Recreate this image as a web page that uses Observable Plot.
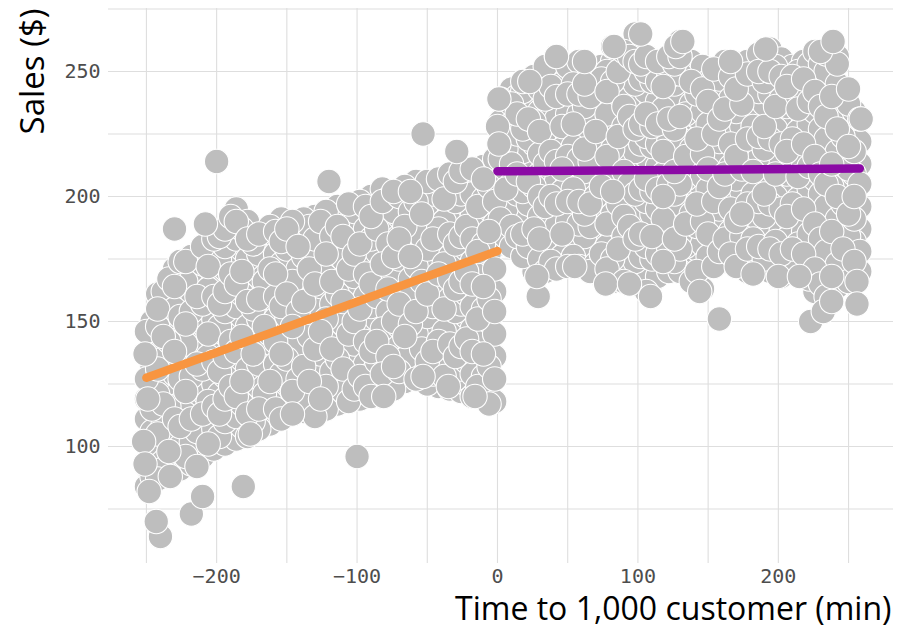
<!DOCTYPE html>
<html>
<head>
<meta charset="utf-8">
<script src="https://cdn.jsdelivr.net/npm/d3@7"></script>
<script src="https://cdn.jsdelivr.net/npm/@observablehq/plot@0.6"></script>
<style>
  html, body { margin: 0; padding: 0; background: white; }
  #chart { width: 898px; height: 631px; }
</style>
</head>
<body>
<div id="chart"></div>
<script>
// ---- Data ----
// Before cutoff (time < 0): columns of estimated sales values
const beforeTimes = [-250,-242,-234,-226,-218,-210,-202,-194,-186,-178,-170,-162,-154,-146,-138,-130,-122,-114,-106,-98,-90,-82,-74,-66,-58,-50,-42,-34,-26,-18,-10,-2];
const beforeSales = [
  [84, 92, 101, 111, 119, 127, 137, 146],
  [87, 95, 105, 113, 121, 131, 139, 148, 155, 161],
  [89, 98, 106, 116, 124, 133, 142, 150, 159, 167],
  [91, 100, 108, 117, 127, 135, 143, 152, 160, 168, 174],
  [93, 102, 111, 119, 128, 136, 146, 154, 163, 170, 176],
  [96, 105, 113, 122, 131, 140, 149, 157, 165, 173, 180],
  [99, 107, 116, 125, 134, 142, 151, 160, 169, 177, 183],
  [101, 110, 119, 128, 136, 145, 154, 162, 171, 180, 187],
  [103, 112, 120, 129, 138, 147, 156, 165, 174, 183, 190, 195],
  [104, 113, 122, 131, 140, 148, 158, 166, 175, 183, 190],
  [107, 115, 124, 133, 142, 151, 159, 168, 177, 185],
  [109, 118, 126, 135, 145, 153, 162, 171, 180, 188],
  [111, 120, 129, 137, 147, 156, 164, 173, 182, 191],
  [113, 122, 130, 139, 148, 157, 166, 174, 183, 190],
  [114, 123, 132, 141, 149, 158, 167, 176, 184, 191],
  [112, 121, 130, 139, 148, 156, 165, 174, 183, 192],
  [115, 124, 133, 142, 151, 160, 168, 177, 186, 194],
  [117, 126, 135, 143, 152, 161, 170, 179, 188, 196],
  [118, 127, 136, 145, 154, 163, 171, 180, 189, 197],
  [119, 128, 137, 146, 155, 163, 172, 181, 190, 198],
  [120, 129, 138, 147, 156, 165, 174, 183, 192, 200],
  [120, 129, 138, 147, 155, 164, 173, 182, 191, 198, 203],
  [123, 132, 141, 150, 159, 168, 176, 185, 194, 202],
  [126, 135, 144, 153, 161, 170, 179, 188, 196, 204],
  [127, 136, 145, 154, 163, 172, 181, 189, 198, 206],
  [125, 134, 143, 152, 161, 170, 179, 188, 197, 206],
  [124, 133, 142, 151, 160, 169, 178, 187, 195, 203, 207],
  [123, 132, 141, 150, 159, 167, 176, 185, 194, 202, 209],
  [122, 131, 140, 148, 157, 166, 175, 184, 193, 201, 210],
  [120, 129, 138, 147, 156, 165, 174, 183, 192, 201, 211],
  [119, 128, 137, 146, 155, 164, 172, 181, 190, 199, 207, 212],
  [118, 127, 136, 145, 154, 162, 171, 180, 189, 198, 206, 215]
];
// Before cutoff, in-between columns
const beforeTimes2 = [-246,-238,-230,-222,-214,-206,-198,-190,-182,-174,-166,-158,-150,-142,-134,-126,-118,-110,-102,-94,-86,-78,-70,-62,-54,-46,-38,-30,-22,-14,-6];
const beforeSales2 = [
  [88, 97, 106, 115, 123, 132, 141, 150],
  [91, 100, 109, 117, 126, 135, 144, 153, 162],
  [93, 102, 111, 120, 129, 138, 147, 155, 164, 171],
  [96, 104, 113, 122, 131, 141, 149, 158, 166, 174],
  [98, 106, 115, 124, 133, 142, 151, 160, 168, 177],
  [101, 110, 118, 127, 136, 145, 154, 163, 172, 180],
  [104, 113, 121, 130, 139, 148, 157, 166, 175, 184],
  [106, 115, 124, 133, 142, 151, 160, 169, 178, 186, 192],
  [108, 117, 126, 135, 144, 152, 161, 170, 179, 187],
  [110, 119, 128, 137, 146, 155, 163, 172, 181, 187],
  [112, 121, 130, 139, 148, 157, 166, 175, 184],
  [115, 124, 133, 142, 151, 160, 169, 177, 186],
  [117, 126, 135, 144, 152, 161, 170, 179, 187],
  [118, 127, 136, 145, 154, 162, 171, 180, 188],
  [117, 126, 135, 144, 153, 162, 171, 179, 188],
  [119, 128, 137, 146, 155, 164, 173, 182, 190],
  [121, 130, 139, 148, 157, 166, 175, 184, 192],
  [122, 131, 140, 149, 158, 167, 175, 184, 193],
  [123, 132, 141, 150, 159, 168, 177, 186, 194],
  [124, 133, 142, 151, 160, 169, 178, 187, 196],
  [125, 134, 142, 151, 160, 169, 178, 187, 196],
  [127, 136, 145, 154, 163, 172, 181, 190, 199],
  [130, 139, 148, 157, 166, 175, 183, 192, 200],
  [131, 140, 149, 158, 167, 176, 185, 194, 202],
  [130, 139, 148, 157, 166, 175, 184, 193, 202],
  [129, 138, 147, 156, 165, 174, 183, 192, 201],
  [128, 137, 146, 155, 164, 173, 182, 190, 199, 206],
  [127, 136, 145, 154, 163, 172, 181, 189, 198, 206],
  [125, 134, 143, 152, 161, 170, 179, 188, 197, 206],
  [124, 133, 142, 151, 160, 169, 178, 187, 196, 205],
  [123, 132, 141, 150, 159, 168, 177, 186, 195, 204, 211]
];
// After cutoff (time >= 0)
const afterTimes = [2,10,18,26,34,42,50,58,66,74,82,90,98,106,114,122,130,138,146,154,162,170,178,186,194,202,210,218,226,234,242,250,258];
const afterSales = [
  [183, 191, 199, 207, 215, 222, 230, 239],
  [180, 188, 197, 205, 213, 221, 229, 237, 243],
  [176, 185, 193, 202, 210, 218, 227, 235, 242, 246],
  [170, 179, 187, 196, 204, 213, 221, 230, 238, 248],
  [170, 178, 187, 196, 204, 213, 222, 230, 239, 246, 252],
  [171, 180, 188, 197, 206, 214, 223, 231, 240, 248, 256],
  [172, 181, 190, 198, 207, 216, 224, 233, 241, 248, 252],
  [172, 181, 189, 198, 207, 215, 224, 233, 241, 249, 254],
  [170, 179, 188, 197, 205, 214, 223, 231, 240, 250],
  [168, 177, 186, 195, 204, 212, 221, 230, 239, 247, 252],
  [166, 175, 184, 193, 202, 211, 219, 228, 237, 246, 254, 260],
  [166, 175, 184, 192, 201, 210, 219, 228, 236, 245, 252, 258],
  [165, 174, 183, 192, 201, 210, 218, 227, 236, 245, 254, 261, 265],
  [162, 171, 180, 189, 198, 207, 216, 224, 233, 242, 250, 256],
  [168, 177, 186, 195, 203, 212, 221, 229, 238, 246, 254],
  [170, 179, 188, 196, 205, 214, 222, 231, 240, 248, 256],
  [170, 179, 188, 197, 205, 214, 223, 232, 240, 249, 256, 262],
  [166, 175, 184, 193, 202, 211, 219, 228, 237, 246, 254],
  [163, 172, 181, 190, 199, 208, 217, 226, 234, 243, 252],
  [172, 181, 190, 198, 207, 216, 225, 233, 242, 251],
  [174, 183, 191, 200, 209, 218, 226, 235, 244, 254],
  [172, 181, 190, 199, 207, 216, 225, 234, 243, 252],
  [170, 179, 188, 197, 206, 214, 223, 232, 241, 249, 254],
  [171, 180, 189, 198, 207, 215, 224, 233, 242, 250, 257],
  [170, 179, 188, 197, 206, 215, 223, 232, 241, 250, 259],
  [168, 177, 186, 195, 204, 213, 221, 230, 239, 248, 255],
  [170, 179, 188, 197, 205, 214, 223, 232, 241, 248, 252],
  [168, 177, 186, 195, 204, 212, 221, 230, 239, 247, 254],
  [162, 171, 180, 189, 198, 207, 216, 225, 234, 242, 250, 258],
  [160, 169, 178, 187, 196, 205, 214, 223, 232, 241, 250, 257],
  [164, 173, 182, 191, 200, 209, 218, 227, 236, 245, 253, 256],
  [166, 175, 184, 193, 202, 211, 220, 229, 237, 243],
  [170, 178, 187, 196, 205, 213, 222, 231]
];
// After cutoff, in-between columns
const afterTimes2 = [6,14,22,30,38,46,54,62,70,78,86,94,102,110,118,126,134,142,150,158,166,174,182,190,198,206,214,222,230,238,246,254];
const afterSales2 = [
  [186, 195, 203, 211, 219, 226, 234],
  [184, 192, 201, 209, 217, 225, 233, 240],
  [180, 189, 197, 206, 214, 223, 231, 240],
  [175, 183, 192, 200, 209, 217, 226, 234, 243],
  [174, 183, 192, 200, 209, 218, 226, 235, 244, 250],
  [176, 185, 193, 202, 211, 219, 228, 236, 245],
  [176, 185, 194, 203, 211, 220, 229, 237, 245],
  [175, 184, 193, 201, 210, 219, 228, 236, 245, 253],
  [173, 182, 191, 200, 209, 218, 226, 235, 244],
  [171, 180, 189, 198, 207, 216, 224, 233, 242, 250],
  [170, 179, 188, 197, 206, 215, 224, 232, 241, 250],
  [170, 179, 188, 197, 205, 214, 223, 232, 240, 249, 256],
  [167, 176, 185, 194, 203, 212, 221, 229, 238, 247, 253],
  [166, 175, 184, 193, 202, 211, 220, 228, 237, 246],
  [174, 183, 191, 200, 209, 218, 226, 235, 244, 251],
  [174, 183, 192, 201, 210, 218, 227, 236, 245, 253],
  [171, 180, 189, 198, 207, 216, 225, 233, 242, 251],
  [170, 179, 188, 197, 206, 215, 223, 232, 241, 249],
  [176, 185, 194, 203, 211, 220, 229, 238, 246],
  [178, 187, 195, 204, 213, 222, 231, 239, 247],
  [177, 186, 195, 203, 212, 221, 230, 239, 248],
  [175, 184, 193, 202, 211, 219, 228, 237, 246],
  [174, 183, 192, 201, 210, 219, 228, 237, 246],
  [175, 184, 192, 201, 210, 219, 228, 237, 246, 254],
  [173, 182, 191, 200, 209, 218, 227, 236, 245, 252],
  [174, 183, 192, 200, 209, 218, 227, 236, 244],
  [172, 181, 190, 199, 208, 217, 226, 235, 243, 250],
  [167, 176, 185, 194, 203, 212, 220, 229, 238, 246, 253],
  [165, 174, 183, 192, 201, 209, 218, 227, 236, 245, 253],
  [168, 177, 186, 195, 204, 213, 222, 231, 240, 249],
  [170, 179, 188, 197, 206, 215, 224, 232, 240],
  [174, 182, 191, 200, 209, 218, 226, 234]
];
// Individually visible stray points
const strayTimes = [-240, -243, -218, -210, -181, -233, -214, -100, -230, -208, -200, -120, -53, -29, -6, -16, -35, -53, -81, -146, -176, -249, -251, -252, -251, -248,
  29, 28, 55, 77, 94, 109, 144, 158, 182, 200, 215, 223, 232, 238, 256, 256, 1, 23, 42, 62, 83, 102, 127, 132, 166, 191, 230, 239, 259, 0, 1];
const straySales = [64, 70, 73, 80, 84, 88, 92, 96, 187, 189, 214, 206, 225, 218, 117, 120, 124, 128, 120, 113, 105, 119, 137, 102, 93, 82,
  160, 168, 172, 165, 165, 160, 162, 151, 169, 168, 168, 150, 154, 158, 166, 157, 239, 246, 256, 254, 260, 265, 260, 262, 254, 259, 258, 262, 231, 228, 221];
// Fitted lines
const fitBeforeTime = [-250, 0];
const fitBeforeSales = [127.5, 178.2];
const fitAfterTime = [0, 258];
const fitAfterSales = [210.1, 211.2];
// Axis ticks and grid
const xTicks = [-200, -100, 0, 100, 200];
const yTicks = [100, 150, 200, 250];
const xGrid = [-250, -200, -150, -100, -50, 0, 50, 100, 150, 200, 250];
const yGrid = [75, 100, 125, 150, 175, 200, 225, 250, 275];

// ---- Build table ----
const points = [];
let idx = 0;
const addCols = (times, sales) => times.forEach((t, i) => sales[i].forEach(s => {
  // drawing-order key: mostly left to right, locally mixed
  points.push({time: t, sales: s, key: t + ((idx * 37) % 11) * 6});
  idx++;
}));
addCols(beforeTimes, beforeSales);
addCols(beforeTimes2, beforeSales2);
addCols(afterTimes, afterSales);
addCols(afterTimes2, afterSales2);
points.sort((a, b) => a.key - b.key);
strayTimes.forEach((t, i) => points.push({time: t, sales: straySales[i]}));
const lineBefore = fitBeforeTime.map((t, i) => ({time: t, sales: fitBeforeSales[i]}));
const lineAfter = fitAfterTime.map((t, i) => ({time: t, sales: fitAfterSales[i]}));

const chart = Plot.plot({
  width: 898,
  height: 631,
  marginLeft: 108,
  marginRight: 5,
  marginTop: 8,
  marginBottom: 68,
  x: {domain: [-277, 282]},
  y: {domain: [53.2, 275.2]},
  style: {background: "white", fontFamily: "DejaVu Sans Mono", color: "#4d4d4d"},
  marks: [
    Plot.ruleX(xGrid, {stroke: "#DEDEDE", strokeWidth: 1.1}),
    Plot.ruleY(yGrid, {stroke: "#DEDEDE", strokeWidth: 1.1}),
    Plot.dot(points, {x: "time", y: "sales", r: 12.2, fill: "#BEBEBE", stroke: "white", strokeWidth: 1.1}),
    Plot.line(lineBefore, {x: "time", y: "sales", stroke: "#F89540", strokeWidth: 8.5}),
    Plot.line(lineAfter, {x: "time", y: "sales", stroke: "#8B0AA5", strokeWidth: 8.5}),
    Plot.axisX(xTicks, {tickSize: 0, tickPadding: 5, fontSize: 20, label: null}),
    Plot.axisY(yTicks, {tickSize: 0, tickPadding: 8, fontSize: 20, label: null}),
    Plot.text(["Time to 1,000 customer (min)"], {frameAnchor: "bottom-right", textAnchor: "end", lineAnchor: "middle", dx: -2, dy: 46, fontSize: 32, fontFamily: "Open Sans", fill: "black"}),
    Plot.text(["Sales ($)"], {frameAnchor: "top-left", textAnchor: "end", lineAnchor: "middle", rotate: -90, dx: -75, dy: 0, fontSize: 33, fontFamily: "Open Sans", fill: "black"})
  ]
});
document.getElementById("chart").appendChild(chart);
</script>
</body>
</html>
